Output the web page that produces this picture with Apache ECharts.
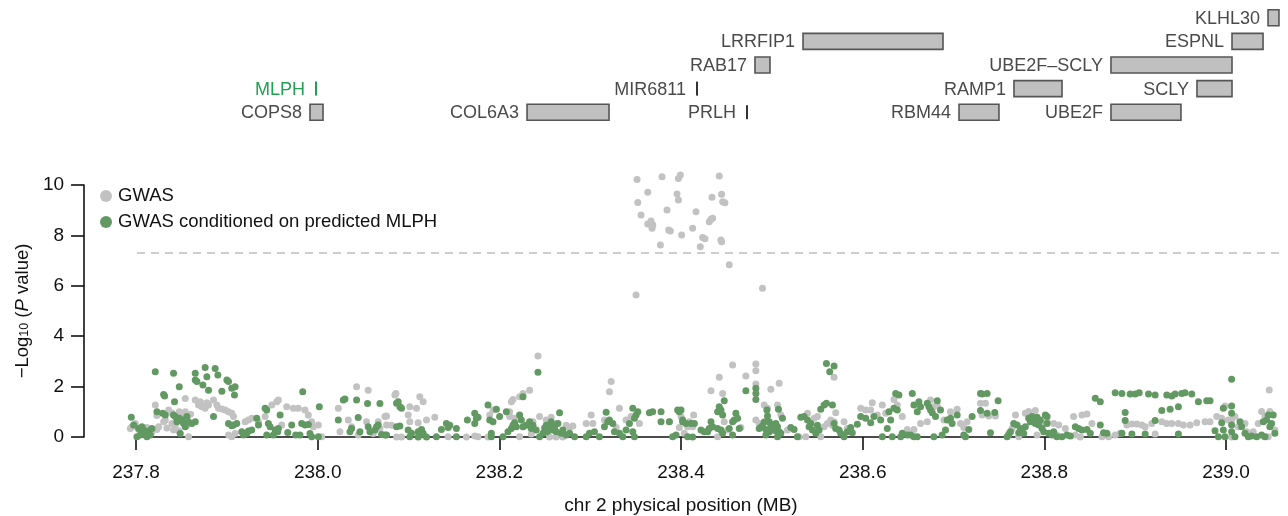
<!DOCTYPE html>
<html><head><meta charset="utf-8">
<script src="https://cdn.jsdelivr.net/npm/echarts@6/dist/echarts.min.js"></script>
<style>html,body{margin:0;padding:0;background:#fff}#c{width:1288px;height:516px}</style>
</head><body><div id="c"></div>
<script>
// ---------- axis ----------
const xMin = 237.8, xMax = 239.0, xStep = 0.2;
const yMin = 0, yMax = 10, yStep = 2;
const xTitle = 'chr 2 physical position (MB)';
const legendNames = ['GWAS', 'GWAS conditioned on predicted MLPH'];
const sigThreshold = 7.3;

// ---------- gene track ----------
const geneNames = ['KLHL30','LRRFIP1','ESPNL','RAB17','UBE2F–SCLY','MLPH','MIR6811','RAMP1','SCLY','COPS8','COL6A3','PRLH','RBM44','UBE2F'];
const geneStart = [239.0462,238.5352,239.0066,238.4824,238.8736,238.0000,238.4187,238.7670,238.9681,237.9934,238.2319,238.4736,238.7066,238.8736];
const geneEnd   = [239.0582,238.6890,239.0407,238.4989,239.0066,238.0000,238.4187,238.8198,239.0066,238.0077,238.3220,238.4736,238.7505,238.9505];
const geneRow   = [0,1,1,2,2,3,3,3,3,4,4,4,4,4];
const highlightGene = 'MLPH';

// ---------- GWAS (grey) ----------
const gwasPoints = [
[237.7937,0.34],[237.7956,0.41],[237.7992,0.54],[237.8212,1.27],[237.8249,0.41],[237.8304,0.61],[237.8322,0.67],[237.8359,1.07],[237.8395,0.54],[237.8413,0.28],[237.8432,0.48],[237.8450,0.74],[237.8476,1.00],[237.8505,0.87],[237.8560,0.48],[237.8542,1.53],[237.8578,0.01],[237.8652,1.47],[237.8688,1.27],[237.8725,1.20],[237.8761,1.14],[237.8798,1.27],[237.8853,1.47],[237.8890,1.27],[237.8908,1.14],[237.8945,1.11],[237.8981,1.07],[237.9018,1.00],[237.9054,0.94],[237.9073,0.81],[237.9018,0.08],[237.9054,0.01],[237.9091,0.14],[237.9201,0.61],[237.9238,0.67],[237.9274,0.74],[237.9348,0.61],[237.9421,0.81],[237.9494,1.27],[237.9549,1.40],[237.9567,1.47],[237.9604,0.48],[237.9659,1.20],[237.9732,1.14],[237.9787,1.14],[237.9860,1.07],[237.9897,0.87],[237.9934,0.61],[237.9952,0.41],[238.0007,0.48],[238.0043,0.01],[238.0227,1.14],[238.0245,0.21],[238.0337,0.67],[238.0373,0.41],[238.0428,1.99],[238.0446,0.08],[238.0538,0.61],[238.0556,1.86],[238.0611,0.14],[238.0666,0.61],[238.0685,0.34],[238.0740,0.81],[238.0758,0.48],
[237.8028,0.30],[237.8120,0.38],[237.8175,0.20],[237.8230,0.30],[237.8340,0.36],[237.8395,0.95],[237.8470,0.25],[237.8542,1.00],[237.8600,0.90],[237.8708,1.40],[237.8780,1.36],[237.8230,0.85],
[238.0861,1.73],[238.0850,1.67],[238.1124,1.60],[238.1161,1.40],[238.1014,1.20],[238.1088,1.14],[238.0996,0.87],[238.1014,0.61],[238.1106,0.57],[238.1198,0.67],[238.1289,0.78],[238.0813,0.47],[238.0758,0.83],
[238.0868,0.00],[238.0923,0.00],[238.1436,0.01],[238.1637,0.00],[238.1729,0.04],[238.1765,0.01],[238.1875,0.00],[238.2223,0.01],[238.2351,0.12],[238.2553,0.00],[238.2626,0.00],[238.2699,0.00],
[238.1894,0.87],[238.1930,1.07],[238.2113,1.00],[238.2132,1.40],[238.2150,1.49],[238.2223,1.60],[238.2260,1.73],[238.2333,1.86],[238.2113,0.81],[238.2168,0.74],[238.2370,0.61],[238.2425,3.21],[238.2443,0.81],[238.2516,0.67],[238.2571,0.78],[238.2626,0.54],[238.2736,0.47],[238.2773,0.38],[238.2809,0.44],[238.2516,0.38],
[238.2956,0.54],[238.3011,0.87],[238.3029,0.54],[238.3157,0.67],[238.3212,1.80],[238.3231,2.20],[238.3322,1.14],[238.3286,0.38],[238.3395,0.67],[238.3450,0.81],[238.3542,0.54],[238.3872,0.61],[238.3981,0.38],[238.4036,0.15],
[238.4000,0.81],[238.4073,0.41],[238.4128,0.41],[238.4139,0.87],[238.4092,0.61],[238.4330,1.84],[238.4421,2.37],[238.4458,1.73],[238.4568,2.86],[238.4476,0.61],[238.4403,0.01],[238.4513,0.28],[238.4659,0.38],[238.4714,2.42],[238.4824,2.90],[238.4824,2.63],[238.4824,2.10],[238.4824,0.67],[238.4861,0.54],[238.4916,1.27],[238.4952,1.14],[238.4989,1.89],[238.5026,0.34],[238.5062,1.27],[238.5081,2.13],[238.5099,0.87],[238.5172,0.28],[238.5300,0.01],[238.5374,0.01],[238.5392,0.94],[238.5465,0.74],[238.5502,0.81],[238.5538,0.01],[238.5575,0.41],[238.5612,0.54],[238.5648,0.67],[238.5667,0.47],[238.5685,0.61],[238.5685,2.37],[238.5703,0.96],[238.5795,0.61],[238.5831,0.34],[238.5978,1.14],[238.6033,1.07],[238.6088,1.07],[238.6106,1.36],[238.6161,0.87],[238.6216,1.27],[238.6253,0.94],[238.6344,1.49],[238.6381,1.27],[238.6436,0.81],[238.6491,0.30],[238.6564,0.30],[238.6637,0.54],[238.6711,0.61],[238.6747,1.47],[238.6784,1.20],[238.6821,1.27],[238.6894,0.67],[238.6967,1.00],[238.7040,1.10],[238.7077,0.54],[238.7113,0.38],[238.7150,0.61],
[238.7297,1.34],[238.7352,1.34],[238.7315,0.87],[238.7388,0.83],[238.7462,0.83],[238.7682,0.87],[238.7645,0.34],[238.7608,0.15],[238.7718,0.01],[238.7791,0.94],[238.7828,1.01],[238.7901,1.05],[238.7920,0.08],[238.7975,0.54],[238.8030,0.61],[238.8103,0.54],[238.8158,0.48],[238.8139,0.08],[238.8231,0.34],[238.8322,0.81],[238.8414,0.87],[238.8469,0.91],[238.8341,0.08],[238.8396,0.00],[238.8524,0.54],[238.8634,0.01],[238.8707,0.01],[238.8780,0.08],[238.8835,0.15],[238.8909,0.48],[238.8964,0.52],[238.9018,0.52],[238.9073,0.48],[238.9110,0.41],[238.9183,0.54],[238.9220,0.12],[238.9293,0.61],[238.9348,0.54],[238.9403,0.54],[238.9476,0.54],[238.9531,0.48],[238.9605,0.48],[238.9678,0.57],[238.9769,0.61],[238.9824,0.61],[238.9898,0.81],[238.9989,1.23],[238.9953,0.74],[239.0026,0.67],[239.0062,0.67],[239.0099,0.81],[239.0136,0.41],[239.0209,0.54],[239.0227,0.21],[239.0300,0.21],[239.0355,0.54],[239.0392,1.01],[239.0429,0.81],[239.0476,1.87],[239.0483,1.01],[239.0538,0.28],[239.0465,0.01],[239.0062,0.00],
[238.3516,10.22],[238.3791,10.33],[238.3971,10.26],[238.3993,10.40],[238.4421,10.36],[238.3634,9.71],[238.3956,9.64],[238.3971,9.40],[238.3524,9.31],[238.4341,9.51],[238.4447,9.63],[238.4458,9.34],[238.4483,9.30],[238.3560,8.81],[238.3846,9.01],[238.4165,8.94],[238.3670,8.57],[238.3634,8.45],[238.3689,8.41],[238.3681,8.28],[238.3864,8.21],[238.3883,8.17],[238.4128,8.28],[238.4007,8.02],[238.4311,8.54],[238.4330,8.64],[238.4348,8.68],[238.4238,7.92],[238.4264,7.87],[238.4439,7.82],[238.4447,7.75],[238.3773,7.62],[238.4212,7.55],[238.4531,6.84],[238.4897,5.90],[238.3505,5.63]
];

// ---------- GWAS conditioned on predicted MLPH (green) ----------
const condPoints = [
[237.7948,0.78],[237.7974,0.48],[237.8029,0.34],[237.8065,0.18],[237.8102,0.08],[237.8139,0.24],[237.8175,0.34],[237.8065,0.41],[237.8010,0.01],[237.8120,0.01],[237.8157,0.08],[237.8084,0.28],[237.8047,0.08],
[237.8212,2.59],[237.8413,2.53],[237.8476,1.99],[237.8304,1.69],[237.8315,1.63],[237.8230,1.00],[237.8293,0.94],[237.8322,0.87],[237.8413,0.87],[237.8432,0.81],[237.8476,0.74],[237.8505,0.67],[237.8450,0.61],[237.8523,0.54],[237.8560,0.81],[237.8578,0.61],[237.8615,0.54],[237.8652,0.61],[237.8542,0.41],[237.8487,0.14],[237.8424,1.40],
[237.8652,2.53],[237.8761,2.76],[237.8871,2.72],[237.8652,2.26],[237.8780,2.39],[237.8901,2.46],[237.8670,2.20],[237.8736,2.06],[237.8798,1.86],[237.8945,1.82],[237.9000,2.26],[237.9018,2.20],[237.9054,1.93],[237.9091,1.99],[237.9084,1.67],
[237.8853,0.81],[237.9018,0.54],[237.9073,0.48],[237.9109,0.54],[237.9054,0.45],[237.9164,0.21],[237.9201,0.14],[237.9238,0.24],[237.9274,0.28],[237.9183,0.08],[237.9219,0.14],[237.9329,0.74],[237.9348,0.48],[237.9421,1.14],[237.9439,1.07],[237.9457,0.54],[237.9476,0.41],[237.9531,0.28],[237.9567,0.34],[237.9439,0.08],[237.9512,0.08],[237.9560,0.21],[237.9586,0.87],[237.9670,0.18],[237.9714,0.48],[237.9758,0.08],[237.9805,0.08],[237.9824,0.54],[237.9860,0.48],[237.9897,0.50],[237.9835,1.80],[237.9915,0.14],[237.9934,0.01],[238.0007,0.01],[238.0018,1.20],
[238.0227,0.67],[238.0282,1.47],[238.0300,1.51],[238.0355,0.21],[238.0373,0.34],[238.0428,1.47],[238.0446,0.77],[238.0465,0.21],[238.0549,1.33],[238.0556,0.41],[238.0575,0.21],[238.0630,0.28],[238.0648,0.41],[238.0666,0.48],[238.0685,1.33],[238.0703,0.10],[238.0740,0.08],
[238.0886,1.40],[238.0868,1.34],[238.0905,1.20],[238.0923,1.14],[238.0868,0.41],[238.0905,0.44],[238.0758,0.08],
[238.1014,0.01],[238.1033,0.15],[238.1106,0.21],[238.1124,0.08],[238.1143,0.30],[238.1161,0.15],[238.1106,0.00],[238.1198,0.00],[238.0996,0.28],
[238.1307,0.01],[238.1362,0.30],[238.1417,0.54],[238.1454,0.47],[238.1436,0.38],[238.1527,0.34],[238.1527,0.01],
[238.1648,0.67],[238.1729,0.94],[238.1747,0.74],[238.1765,0.78],[238.1729,0.54],
[238.1875,1.27],[238.1967,1.10],[238.1894,0.67],[238.1930,0.61],[238.1912,0.15],[238.1912,0.01],
[238.2003,0.81],[238.2040,0.01],[238.2077,1.00],[238.2095,0.21],[238.2132,0.34],[238.2150,0.47],[238.2168,0.57],[238.2187,0.41],[238.2223,0.87],[238.2242,0.67],[238.2260,1.60],[238.2260,0.41],[238.2296,0.47],[238.2333,0.61],[238.2351,0.34],[238.2370,0.47],[238.2406,0.28],[238.2425,2.57],[238.2443,0.01],[238.2480,0.15],[238.2516,0.47],[238.2553,0.34],[238.2571,0.61],[238.2590,0.28],[238.2608,0.41],[238.2626,0.21],[238.2645,0.54],[238.2663,0.96],[238.2681,0.15],[238.2699,0.28],[238.2736,0.08],[238.2773,0.15],[238.2828,0.01],
[238.2498,0.36],[238.2535,0.24],[238.2571,0.40],[238.2608,0.30],[238.2516,0.20],
[238.2956,0.01],[238.2992,0.15],[238.3047,0.21],[238.3102,0.01],[238.3157,0.41],[238.3176,0.98],[238.3194,0.61],[238.3212,0.67],[238.3249,0.54],[238.3267,0.21],[238.3322,0.15],[238.3359,0.01],[238.3395,0.28],[238.3432,0.54],[238.3469,1.14],[238.3487,0.74],[238.3505,0.87],[238.3524,1.00],[238.3469,0.21],[238.3487,0.01],[238.3652,0.96],[238.3688,1.00],[238.3780,1.00],[238.3780,0.61],[238.3872,0.61],[238.3908,0.01],[238.3945,0.08],[238.3963,1.07],[238.3981,1.00],[238.4018,0.67],
[238.4000,1.07],[238.4018,0.61],[238.4055,0.54],[238.4110,0.54],[238.4147,0.54],[238.4073,0.01],[238.4128,0.00],[238.4220,0.28],[238.4256,0.21],[238.4293,0.21],[238.4330,0.61],[238.4348,0.41],[238.4311,0.34],[238.4403,1.00],[238.4421,1.20],[238.4440,1.07],[238.4458,0.87],[238.4476,1.44],[238.4403,0.34],[238.4440,0.28],[238.4458,0.15],[238.4531,0.34],[238.4568,0.08],[238.4568,0.61],[238.4586,0.67],[238.4604,0.94],[238.4623,0.74],[238.4641,0.34],[238.4714,1.84],[238.4824,1.93],[238.4824,1.73],[238.4824,1.49],[238.4861,0.34],[238.4879,0.38],[238.4945,1.07],[238.4952,0.83],[238.4971,0.61],[238.4989,0.47],[238.5007,0.34],[238.5026,0.28],[238.5044,0.54],[238.5062,0.41],[238.5081,0.21],[238.5099,0.15],[238.5062,0.01],[238.5073,1.10],[238.5117,0.74],[238.4934,0.08],
[238.4897,0.45],[238.4934,0.30],[238.4971,0.20],[238.5007,0.50],[238.5044,0.25],[238.4916,0.60],
[238.5209,0.38],[238.5245,0.30],[238.5282,0.01],[238.5319,0.78],[238.5355,0.81],[238.5392,0.67],[238.5410,0.41],[238.5429,0.54],[238.5447,0.28],[238.5484,0.15],[238.5502,0.47],[238.5520,0.28],[238.5538,1.10],[238.5575,1.27],[238.5601,1.34],[238.5601,2.92],[238.5637,2.59],[238.5685,2.82],[238.5667,1.27],[238.5685,0.54],[238.5703,0.34],[238.5740,0.28],[238.5758,0.15],[238.5795,0.01],[238.5831,0.21],[238.5868,0.38],[238.5886,0.17],[238.5941,0.51],[238.5978,0.81],[238.6033,0.74],[238.6088,0.57],[238.6124,0.81],[238.6198,0.67],[238.6216,0.01],[238.6271,0.34],[238.6289,1.00],[238.6308,0.67],[238.6326,0.01],[238.6344,1.14],[238.6381,1.07],[238.6363,1.73],[238.6399,1.67],[238.6418,0.01],[238.6436,0.15],[238.6491,0.08],[238.6527,0.08],[238.6564,0.01],[238.6601,0.01],[238.6546,1.73],[238.6564,1.27],[238.6601,1.00],[238.6619,1.40],[238.6637,1.20],[238.6711,1.34],[238.6729,1.20],[238.6747,1.07],[238.6766,0.96],[238.6802,0.81],[238.6821,1.44],[238.6857,1.07],[238.6784,0.01],[238.6875,0.08],[238.6912,0.28],[238.6930,0.67],[238.6967,0.74],[238.6985,0.54],[238.7040,0.87],[238.7113,0.08],[238.7132,0.01],[238.7168,0.30],[238.7205,0.81],[238.7297,1.73],
[238.7315,1.71],[238.7370,1.73],[238.7491,1.44],[238.7297,1.05],[238.7370,0.94],[238.7454,0.97],[238.7407,0.17],[238.7590,0.01],[238.7608,0.08],[238.7627,0.21],[238.7663,0.54],[238.7700,0.48],[238.7718,0.17],[238.7737,0.34],[238.7773,0.15],[238.7791,0.41],[238.7828,0.74],[238.7846,0.61],[238.7865,0.81],[238.7883,0.67],[238.7901,0.54],[238.7920,0.78],[238.7938,0.48],[238.7956,0.67],[238.7975,0.34],[238.7993,0.21],[238.8011,0.87],[238.8030,0.81],[238.8030,0.54],[238.8048,0.15],[238.8084,0.08],[238.8103,0.21],[238.8139,0.01],[238.8194,0.01],[238.8249,0.08],[238.8286,0.04],[238.8341,0.41],[238.8377,0.34],[238.8414,0.28],[238.8469,0.30],[238.8506,0.15],[238.8561,1.54],[238.8616,1.40],[238.8616,0.48],[238.8652,0.17],[238.8689,0.15],
[238.8780,1.76],[238.8854,1.73],[238.8945,1.71],[238.9000,1.71],[238.9044,1.76],[238.8890,0.97],[238.8890,0.65],[238.8854,0.15],[238.8964,0.12],[238.9110,0.12],[238.9147,1.71],[238.9220,1.67],[238.9293,1.05],[238.9220,0.65],[238.9348,1.67],[238.9403,1.63],[238.9440,1.71],[238.9513,1.73],[238.9549,1.76],[238.9623,1.71],[238.9385,1.10],[238.9476,1.20],[238.9476,0.12],[238.9696,1.40],[238.9788,1.44],[238.9824,1.44],[238.9971,1.14],[239.0062,2.29],[239.0062,1.23],[239.0062,0.94],[238.9953,0.57],[238.9971,0.28],[238.9879,0.25],[238.9916,0.01],[238.9989,0.01],[239.0062,0.48],[239.0062,0.21],[239.0099,0.01],[239.0154,0.61],[239.0172,0.41],[239.0209,0.15],[239.0245,0.01],[239.0282,0.04],[239.0337,0.01],[239.0392,0.08],[239.0410,0.61],[239.0447,0.67],[239.0465,0.87],[239.0483,0.41],[239.0502,0.54],[239.0538,0.15],[239.0520,0.87],[239.0429,0.01]
];

const FONT = '"Liberation Sans", Arial, Helvetica, sans-serif';
const GREY = '#c2c2c2', GREEN = '#629862', HILITE = '#20a050', GENE_TXT = '#4a4a4a';

const chart = echarts.init(document.getElementById('c'), null, {renderer: 'canvas'});

const geneData = geneNames.map((n, i) => [geneStart[i], geneEnd[i], geneRow[i]]);

function renderGene(params, api) {
  const s = api.coord([api.value(0), api.value(2)]);
  const e = api.coord([api.value(1), api.value(2)]);
  const name = geneNames[params.dataIndex];
  const hi = name === highlightGene;
  const w = e[0] - s[0];
  const kids = [];
  let gap;
  if (w < 1) {
    kids.push({type: 'line', shape: {x1: s[0], y1: s[1] - 7, x2: s[0], y2: s[1] + 7},
      style: {stroke: hi ? HILITE : '#333', lineWidth: 2}});
    gap = 11;
  } else {
    kids.push({type: 'rect', shape: {x: s[0], y: s[1] - 8, width: w, height: 16},
      style: {fill: '#c0c0c0', stroke: '#555', lineWidth: 1.6}});
    gap = 8;
  }
  kids.push({type: 'text', style: {text: name, x: s[0] - gap, y: s[1] + 1, align: 'right', verticalAlign: 'middle',
    fill: hi ? HILITE : GENE_TXT, font: '18px ' + FONT}});
  return {type: 'group', children: kids};
}

const axisCol = '#111';
chart.setOption({
  animation: false,
  textStyle: {fontFamily: FONT},
  legend: {
    data: legendNames, orient: 'vertical', left: 95, top: 181,
    icon: 'circle', itemWidth: 14, itemHeight: 12, itemGap: 6,
    textStyle: {fontSize: 18.5, color: '#111', fontFamily: FONT, lineHeight: 20}
  },
  grid: [
    {left: 134, right: 62, top: 185, bottom: 79, containLabel: false},
    {left: 134, right: 62, top: 6, height: 118, containLabel: false},
    {left: 137, right: 8, top: 185, bottom: 79, containLabel: false}
  ],
  xAxis: [
    {type: 'value', gridIndex: 0, min: xMin, max: xMax, interval: xStep, offset: 11,
     name: xTitle, nameLocation: 'middle', nameGap: 48,
     nameTextStyle: {fontSize: 19, color: '#111', fontFamily: FONT},
     axisLine: {show: true, lineStyle: {color: axisCol, width: 1.6}},
     axisTick: {show: true, inside: false, length: 13, lineStyle: {color: axisCol, width: 1.6}},
     axisLabel: {margin: 15, fontSize: 19, color: '#111', fontFamily: FONT, formatter: v => v.toFixed(1)},
     splitLine: {show: false}},
    {type: 'value', gridIndex: 1, min: xMin, max: xMax, show: false},
    {type: 'value', gridIndex: 2, min: 0, max: 1, show: false}
  ],
  yAxis: [
    {type: 'value', gridIndex: 0, min: yMin, max: yMax, interval: yStep, offset: 52,
     name: '{t|−Log}{s|10}{t| (}{i|P}{t| value)}', nameLocation: 'middle', nameRotate: 90, nameGap: 52,
     nameTextStyle: {color: '#111', rich: {
       t: {fontSize: 18.5, lineHeight: 18, verticalAlign: 'top', color: '#111', fontFamily: FONT},
       i: {fontSize: 18.5, lineHeight: 18, verticalAlign: 'top', fontStyle: 'italic', color: '#111', fontFamily: FONT},
       s: {fontSize: 12.5, lineHeight: 12, verticalAlign: 'bottom', padding: [10, 0, 0, 0], color: '#111', fontFamily: FONT}
     }},
     axisLine: {show: true, lineStyle: {color: axisCol, width: 1.6}},
     axisTick: {show: true, inside: false, length: 13, lineStyle: {color: axisCol, width: 1.6}},
     axisLabel: {margin: 20, fontSize: 19, color: '#111', fontFamily: FONT},
     splitLine: {show: false}},
    {type: 'value', gridIndex: 1, min: -0.5, max: 4.5, inverse: true, show: false},
    {type: 'value', gridIndex: 2, min: yMin, max: yMax, show: false}
  ],
  series: [
    {name: 'threshold', type: 'line', xAxisIndex: 2, yAxisIndex: 2, silent: true,
     data: [[0, sigThreshold], [1, sigThreshold]],
     showSymbol: false, symbol: 'none', lineStyle: {color: '#bdbdbd', width: 1.5, type: [8, 6]}, z: 1},
    {name: legendNames[0], type: 'scatter', xAxisIndex: 0, yAxisIndex: 0, data: gwasPoints,
     symbol: 'circle', symbolSize: 7, clip: false, itemStyle: {color: GREY, opacity: 1}, z: 2},
    {name: legendNames[1], type: 'scatter', xAxisIndex: 0, yAxisIndex: 0, data: condPoints,
     symbol: 'circle', symbolSize: 7, clip: false, itemStyle: {color: GREEN, opacity: 1}, z: 3},
    {name: 'genes', type: 'custom', xAxisIndex: 1, yAxisIndex: 1, data: geneData, clip: false,
     renderItem: renderGene, silent: true}
  ]
});
</script>
</body></html>
